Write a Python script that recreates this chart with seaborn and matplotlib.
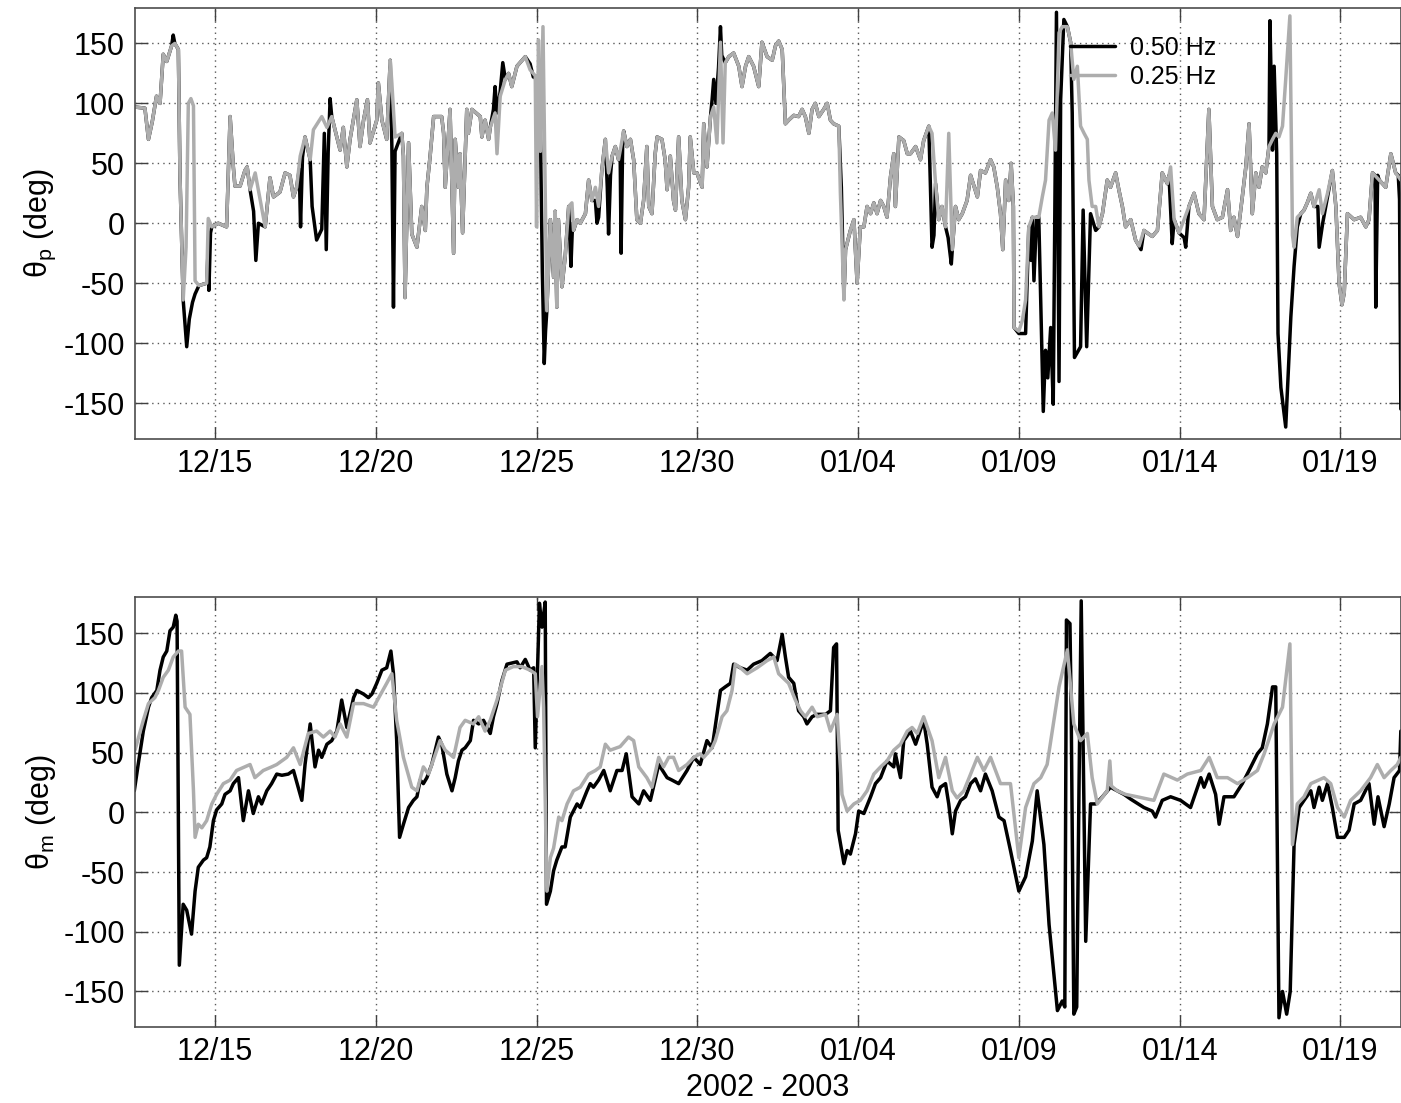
import matplotlib
matplotlib.use("Agg")
import matplotlib.pyplot as plt
import numpy as np
import pandas as pd
import seaborn as sns

# Time axis: day counted from 1 Dec 2002 (Jan days are 31 + day of month)
tick_days = [15, 20, 25, 30, 35, 40, 45, 50]
tick_labels = ["12/15", "12/20", "12/25", "12/30", "01/04", "01/09", "01/14", "01/19"]
deg_ticks = [-150, -100, -50, 0, 50, 100, 150]

# Peak direction, 0.25 Hz band (day, deg)
theta_p_025 = [
    (12.50, 97), (12.82, 96), (12.93, 70), (13.05, 85), (13.18, 106), (13.29, 100), (13.39, 141),
    (13.50, 135), (13.65, 148), (13.75, 150), (13.86, 145), (13.91, 40), (14.01, -64), (14.10, -20),
    (14.17, 100), (14.25, 104), (14.33, 98), (14.38, -48), (14.50, -52), (14.74, -50), (14.79, 4),
    (14.90, -3), (15.10, 0), (15.36, -3), (15.47, 89), (15.57, 47), (15.62, 31), (15.78, 31),
    (15.93, 44), (16.00, 47), (16.09, 28), (16.25, 42), (16.56, -3), (16.71, 38), (16.82, 22),
    (17.02, 26), (17.18, 42), (17.33, 40), (17.44, 22), (17.54, 30), (17.65, 56), (17.80, 72),
    (17.96, 53), (18.06, 78), (18.32, 89), (18.48, 80), (18.63, 89), (18.79, 72), (18.89, 61),
    (18.99, 80), (19.10, 47), (19.20, 70), (19.41, 103), (19.51, 64), (19.62, 86), (19.74, 103),
    (19.82, 67), (20.03, 86), (20.08, 117), (20.19, 86), (20.34, 70), (20.45, 136), (20.50, 117),
    (20.60, 72), (20.81, 75), (20.86, 56), (20.91, -62), (21.02, 67), (21.12, -9), (21.28, -20),
    (21.43, 14), (21.54, -6), (21.59, 30), (21.69, 56), (21.80, 89), (22.05, 89), (22.11, 75),
    (22.16, 30), (22.31, 95), (22.42, -25), (22.47, 70), (22.57, 30), (22.62, 58), (22.70, -8),
    (22.83, 95), (22.88, 75), (22.99, 95), (23.25, 89), (23.30, 72), (23.40, 86), (23.51, 70),
    (23.56, 80), (23.71, 92), (23.77, 58), (23.87, 106), (24.03, 120), (24.13, 125), (24.23, 114),
    (24.39, 131), (24.65, 139), (24.80, 128), (24.96, 123), (25.00, -3), (25.06, 153), (25.12, 60),
    (25.20, 164), (25.32, -73), (25.43, 3), (25.53, -45), (25.58, 10), (25.63, -70), (25.68, 3),
    (25.79, -53), (25.89, -28), (26.00, 14), (26.10, 17), (26.15, -6), (26.26, 3), (26.36, 0),
    (26.52, 8), (26.62, 36), (26.72, 19), (26.83, 30), (26.93, 14), (27.03, 44), (27.14, 70),
    (27.24, 42), (27.35, 56), (27.45, 64), (27.55, 53), (27.71, 77), (27.81, 64), (27.92, 70),
    (28.02, 53), (28.12, 3), (28.23, 0), (28.33, 19), (28.43, 64), (28.49, 14), (28.59, 8),
    (28.69, 58), (28.75, 72), (28.90, 70), (29.00, 53), (29.06, 28), (29.16, 56), (29.26, 19),
    (29.32, 11), (29.42, 72), (29.52, 19), (29.63, 3), (29.73, 30), (29.78, 72), (29.89, 42),
    (29.99, 42), (30.15, 30), (30.20, 83), (30.30, 47), (30.41, 89), (30.51, 97), (30.61, 67),
    (30.72, 151), (30.80, 67), (30.87, 134), (30.98, 139), (31.13, 142), (31.29, 131), (31.39, 114),
    (31.50, 131), (31.60, 139), (31.75, 131), (31.91, 114), (32.01, 151), (32.17, 139), (32.33, 136),
    (32.43, 148), (32.53, 152), (32.64, 145), (32.74, 83), (32.84, 86), (33.00, 90), (33.15, 89),
    (33.26, 95), (33.36, 89), (33.47, 75), (33.57, 95), (33.67, 100), (33.78, 89), (33.93, 95),
    (34.04, 100), (34.14, 86), (34.24, 83), (34.40, 81), (34.45, 25), (34.56, -64), (34.61, -22),
    (34.76, -6), (34.87, 3), (34.97, -50), (35.07, -3), (35.18, -3), (35.28, 14), (35.39, 8),
    (35.49, 17), (35.59, 8), (35.70, 19), (35.80, 14), (35.90, 5), (36.01, 39), (36.11, 58),
    (36.16, 14), (36.27, 72), (36.42, 69), (36.53, 58), (36.63, 58), (36.79, 64), (36.94, 53),
    (37.04, 69), (37.20, 81), (37.30, 75), (37.41, 33), (37.51, 3), (37.61, 14), (37.72, -3),
    (37.82, 75), (37.93, -22), (38.03, 14), (38.13, 3), (38.24, 8), (38.39, 19), (38.50, 40),
    (38.71, 22), (38.81, 44), (38.96, 42), (39.12, 53), (39.22, 47), (39.33, 30), (39.43, 8),
    (39.50, -22), (39.59, 36), (39.69, 19), (39.76, 50), (39.83, 14), (39.85, -87), (40.00, -90),
    (40.11, -81), (40.21, -64), (40.31, -3), (40.42, 5), (40.62, 5), (40.73, 22), (40.83, 36),
    (40.94, 86), (41.04, 92), (41.14, 61), (41.25, 159), (41.35, 164), (41.51, 164), (41.61, 151),
    (41.71, 120), (41.82, 131), (41.92, 81), (42.03, 75), (42.13, 70), (42.18, 36), (42.28, 14),
    (42.39, 14), (42.49, -3), (42.60, 8), (42.75, 36), (42.85, 30), (43.01, 42), (43.11, 28),
    (43.22, 14), (43.32, -3), (43.48, 3), (43.63, -14), (43.74, -19), (43.89, -6), (43.99, -8),
    (44.15, -11), (44.31, -6), (44.46, 42), (44.62, 33), (44.72, 47), (44.83, 3), (44.98, -8),
    (45.14, 3), (45.29, 14), (45.45, 25), (45.60, 8), (45.76, 3), (45.91, 95), (46.02, 14),
    (46.17, 3), (46.33, 5), (46.49, 28), (46.59, -6), (46.69, 5), (46.80, -11), (46.95, 22),
    (47.06, 47), (47.16, 83), (47.26, 8), (47.37, 42), (47.47, 30), (47.57, 47), (47.68, 42),
    (47.78, 64), (47.89, 70), (47.99, 75), (48.09, 72), (48.20, 81), (48.30, 120), (48.43, 173),
    (48.51, -10), (48.56, -20), (48.66, 5), (48.77, 8), (48.87, 11), (48.97, 17), (49.08, 25),
    (49.18, 14), (49.34, 28), (49.44, 8), (49.60, 25), (49.75, 44), (49.86, 14), (49.96, -50),
    (50.05, -68), (50.12, -58), (50.22, 8), (50.43, 3), (50.63, 5), (50.79, -3), (50.89, 3),
    (51.00, 42), (51.21, 36), (51.41, 30), (51.57, 58), (51.72, 42), (51.88, 36),
]

# Peak direction, 0.50 Hz band (day, deg)
theta_p_050 = [
    (12.50, 97), (12.82, 96), (12.93, 70), (13.05, 85), (13.18, 106), (13.29, 100), (13.39, 141),
    (13.50, 135), (13.65, 148), (13.70, 157), (13.75, 150), (13.86, 145), (13.91, 40), (14.01, -64),
    (14.12, -103), (14.20, -80), (14.30, -66), (14.38, -59), (14.50, -52), (14.74, -50), (14.79, -20),
    (14.81, -56), (14.86, -8), (14.90, -3), (15.10, 0), (15.36, -3), (15.47, 89), (15.57, 47),
    (15.62, 31), (15.78, 31), (15.93, 44), (16.00, 47), (16.09, 28), (16.20, 10), (16.27, -31),
    (16.35, 0), (16.56, -3), (16.71, 38), (16.82, 22), (17.02, 26), (17.18, 42), (17.33, 40),
    (17.44, 22), (17.54, 30), (17.62, 45), (17.66, -3), (17.72, 55), (17.80, 72), (17.96, 53),
    (18.02, 14), (18.16, -14), (18.32, -5), (18.40, 75), (18.46, -22), (18.52, 60), (18.58, 104),
    (18.63, 89), (18.79, 72), (18.89, 61), (18.99, 80), (19.10, 47), (19.20, 70), (19.41, 103),
    (19.51, 64), (19.62, 86), (19.74, 103), (19.82, 67), (20.03, 86), (20.08, 117), (20.19, 86),
    (20.34, 70), (20.45, 136), (20.50, 64), (20.55, -70), (20.60, 60), (20.81, 75), (20.86, 56),
    (20.91, -62), (21.02, 67), (21.12, -9), (21.28, -20), (21.43, 14), (21.54, -6), (21.59, 30),
    (21.69, 56), (21.80, 89), (22.05, 89), (22.11, 75), (22.16, 30), (22.31, 95), (22.42, -25),
    (22.47, 70), (22.57, 30), (22.62, 58), (22.70, -8), (22.83, 95), (22.88, 75), (22.99, 95),
    (23.25, 89), (23.30, 72), (23.40, 86), (23.51, 70), (23.56, 80), (23.66, 95), (23.71, 114),
    (23.77, 92), (23.87, 110), (23.95, 134), (24.03, 120), (24.13, 125), (24.23, 114), (24.39, 131),
    (24.65, 139), (24.80, 133), (24.90, 122), (24.96, 123), (25.05, 100), (25.12, 78), (25.18, -40),
    (25.24, -117), (25.28, -90), (25.32, -73), (25.43, 3), (25.53, -45), (25.58, 10), (25.63, -70),
    (25.68, 3), (25.79, -53), (25.89, -28), (26.00, 14), (26.07, -36), (26.12, 0), (26.15, -6),
    (26.26, 3), (26.36, 0), (26.52, 8), (26.62, 36), (26.72, 19), (26.83, 19), (26.88, 0),
    (26.93, 5), (27.03, 44), (27.14, 70), (27.20, 30), (27.24, -9), (27.30, 40), (27.35, 56),
    (27.45, 64), (27.55, 53), (27.60, 60), (27.63, -25), (27.68, 70), (27.71, 77), (27.81, 64),
    (27.92, 70), (28.02, 53), (28.12, 3), (28.23, 0), (28.33, 19), (28.43, 64), (28.49, 14),
    (28.59, 8), (28.69, 58), (28.75, 72), (28.90, 70), (29.00, 53), (29.06, 28), (29.16, 56),
    (29.26, 19), (29.32, 11), (29.42, 72), (29.52, 19), (29.63, 3), (29.73, 30), (29.78, 72),
    (29.89, 42), (29.99, 42), (30.15, 30), (30.20, 83), (30.30, 47), (30.41, 89), (30.46, 103),
    (30.51, 120), (30.58, 100), (30.66, 130), (30.72, 164), (30.76, 140), (30.87, 134), (30.98, 139),
    (31.13, 142), (31.29, 131), (31.39, 114), (31.50, 131), (31.60, 139), (31.75, 131), (31.91, 114),
    (32.01, 151), (32.17, 139), (32.33, 136), (32.43, 148), (32.53, 152), (32.64, 145), (32.74, 83),
    (32.84, 86), (33.00, 90), (33.15, 89), (33.26, 95), (33.36, 89), (33.47, 75), (33.57, 95),
    (33.67, 100), (33.78, 89), (33.93, 95), (34.04, 100), (34.14, 86), (34.24, 83), (34.40, 81),
    (34.48, 30), (34.56, -62), (34.61, -22), (34.76, -6), (34.87, 3), (34.97, -50), (35.07, -3),
    (35.18, -3), (35.28, 14), (35.39, 8), (35.49, 17), (35.59, 8), (35.70, 19), (35.80, 14),
    (35.90, 5), (36.01, 39), (36.11, 58), (36.16, 14), (36.27, 72), (36.42, 69), (36.53, 58),
    (36.63, 58), (36.79, 64), (36.94, 53), (37.04, 69), (37.20, 81), (37.30, -20), (37.36, -10),
    (37.41, 33), (37.51, 3), (37.61, 14), (37.72, -3), (37.80, -12), (37.90, -34), (37.93, -22),
    (38.03, 14), (38.13, 3), (38.24, 8), (38.39, 19), (38.50, 40), (38.71, 22), (38.81, 44),
    (38.96, 42), (39.12, 53), (39.22, 47), (39.33, 30), (39.43, 8), (39.50, -22), (39.59, 36),
    (39.69, 19), (39.76, 50), (39.83, 14), (39.85, -87), (40.00, -92), (40.21, -92), (40.31, -3),
    (40.38, -31), (40.42, 5), (40.47, -48), (40.55, 5), (40.62, 5), (40.76, -157), (40.83, -106),
    (40.90, -129), (40.99, -87), (41.07, -151), (41.14, 86), (41.17, 176), (41.25, -132), (41.30, 103),
    (41.40, 170), (41.51, 164), (41.61, 151), (41.66, 92), (41.73, -112), (41.92, -103), (42.00, 11),
    (42.11, -103), (42.23, 8), (42.39, -6), (42.49, -3), (42.60, 8), (42.75, 36), (42.85, 30),
    (43.01, 42), (43.11, 28), (43.22, 14), (43.32, -3), (43.48, 3), (43.63, -14), (43.74, -19),
    (43.80, -22), (43.89, -6), (43.99, -8), (44.15, -11), (44.31, -6), (44.46, 42), (44.62, 33),
    (44.67, 40), (44.77, -17), (44.83, 3), (44.98, -8), (45.14, -12), (45.19, -20), (45.29, 14),
    (45.45, 25), (45.60, 8), (45.76, 3), (45.91, 95), (46.02, 14), (46.17, 3), (46.33, 5),
    (46.49, 28), (46.59, -6), (46.69, 5), (46.80, -11), (46.95, 22), (47.06, 47), (47.16, 83),
    (47.26, 8), (47.37, 42), (47.47, 30), (47.57, 47), (47.68, 42), (47.78, 64), (47.81, 169),
    (47.89, 61), (47.94, 131), (48.02, 58), (48.06, -92), (48.15, -137), (48.30, -170), (48.46, -78),
    (48.56, -36), (48.66, -3), (48.77, 8), (48.87, 11), (48.97, 17), (49.08, 25), (49.18, 14),
    (49.30, 14), (49.34, -20), (49.45, 0), (49.60, 22), (49.75, 44), (49.86, 14), (49.96, -50),
    (50.05, -68), (50.12, -58), (50.22, 8), (50.43, 3), (50.63, 5), (50.79, -3), (50.89, 3),
    (51.00, 42), (51.08, 40), (51.10, -70), (51.16, 40), (51.21, 36), (51.41, 30), (51.57, 58),
    (51.72, 42), (51.80, 40), (51.84, 20), (51.88, -155),
]

# Mean direction, 0.25 Hz band (day, deg)
theta_m_025 = [
    (12.51, 52), (12.77, 77), (12.93, 91), (13.13, 96), (13.24, 102), (13.39, 113), (13.55, 119),
    (13.70, 130), (13.86, 135), (13.96, 135), (14.07, 88), (14.22, 82), (14.33, 18), (14.38, -21),
    (14.48, -10), (14.59, -13), (14.74, -7), (14.90, 7), (15.05, 15), (15.26, 24), (15.47, 27),
    (15.67, 35), (16.09, 40), (16.24, 29), (16.50, 35), (16.76, 38), (16.92, 40), (17.23, 46),
    (17.44, 54), (17.65, 40), (17.90, 66), (18.16, 68), (18.37, 63), (18.58, 68), (18.73, 63),
    (18.89, 74), (19.10, 63), (19.31, 91), (19.62, 91), (19.93, 88), (20.34, 108), (20.50, 116),
    (20.65, 77), (20.86, 46), (21.12, 21), (21.28, 18), (21.48, 38), (21.64, 32), (22.00, 60),
    (22.16, 52), (22.42, 46), (22.62, 71), (22.78, 77), (23.04, 74), (23.20, 80), (23.40, 68),
    (23.56, 77), (23.77, 94), (24.03, 119), (24.28, 122), (24.54, 122), (24.80, 119), (24.96, 116),
    (25.03, 80), (25.17, 122), (25.22, 88), (25.32, -66), (25.43, -38), (25.53, -30), (25.69, -4),
    (25.79, -7), (25.95, 7), (26.15, 18), (26.36, 21), (26.62, 32), (26.83, 35), (26.98, 38),
    (27.14, 57), (27.29, 52), (27.60, 55), (27.86, 63), (28.02, 60), (28.18, 38), (28.43, 29),
    (28.59, 21), (28.80, 46), (28.95, 38), (29.11, 46), (29.26, 46), (29.42, 35), (29.68, 40),
    (29.89, 46), (30.09, 49), (30.20, 46), (30.46, 54), (30.56, 60), (30.77, 80), (30.92, 85),
    (31.08, 102), (31.18, 124), (31.34, 121), (31.55, 116), (31.86, 121), (32.17, 127), (32.38, 130),
    (32.53, 116), (32.84, 108), (33.05, 94), (33.21, 85), (33.36, 80), (33.57, 88), (33.73, 80),
    (33.99, 82), (34.14, 68), (34.35, 82), (34.50, 15), (34.66, 1), (34.87, 7), (35.07, 10),
    (35.28, 18), (35.49, 32), (35.70, 38), (35.90, 43), (36.11, 52), (36.32, 57), (36.53, 68),
    (36.68, 71), (36.84, 66), (37.04, 80), (37.30, 60), (37.51, 29), (37.72, 46), (37.93, 18),
    (38.08, 12), (38.29, 18), (38.50, 32), (38.71, 46), (38.91, 35), (39.12, 46), (39.43, 24),
    (39.74, 24), (40.00, -38), (40.21, 4), (40.47, 24), (40.68, 29), (40.88, 40), (41.25, 105),
    (41.51, 136), (41.71, 74), (41.92, 60), (42.13, 66), (42.28, 29), (42.44, 7), (42.75, 18),
    (42.83, 43), (42.88, 22), (43.06, 18), (43.32, 15), (43.68, 13), (44.20, 10), (44.51, 32),
    (44.93, 27), (45.24, 32), (45.66, 35), (45.92, 46), (46.17, 29), (46.49, 29), (46.80, 24),
    (47.11, 29), (47.42, 35), (47.63, 49), (47.94, 74), (48.20, 88), (48.43, 141), (48.51, -27),
    (48.66, 7), (48.87, 13), (49.08, 24), (49.49, 29), (49.70, 24), (49.91, 4), (50.12, -4),
    (50.32, 10), (50.63, 18), (50.94, 29), (51.15, 40), (51.36, 29), (51.57, 35), (51.77, 40),
    (51.88, 46),
]

# Mean direction, 0.50 Hz band (day, deg)
theta_m_050 = [
    (12.49, 18), (12.61, 40), (12.77, 68), (12.93, 88), (13.03, 96), (13.19, 102), (13.29, 119),
    (13.39, 130), (13.50, 135), (13.60, 152), (13.70, 155), (13.78, 165), (13.82, 160), (13.89, -128),
    (14.01, -77), (14.12, -82), (14.27, -102), (14.38, -66), (14.48, -46), (14.64, -40), (14.74, -38),
    (14.84, -29), (14.95, -7), (15.05, 2), (15.21, 7), (15.31, 15), (15.47, 18), (15.57, 24),
    (15.73, 29), (15.88, -7), (16.04, 18), (16.19, -1), (16.35, 13), (16.45, 7), (16.61, 18),
    (16.76, 24), (16.92, 32), (17.08, 31), (17.28, 32), (17.44, 35), (17.70, 10), (17.80, 40),
    (17.96, 74), (18.11, 38), (18.22, 52), (18.32, 46), (18.48, 57), (18.63, 60), (18.79, 68),
    (18.94, 94), (19.10, 71), (19.31, 96), (19.41, 102), (19.62, 99), (19.77, 96), (19.88, 99),
    (20.03, 108), (20.19, 119), (20.34, 121), (20.47, 135), (20.55, 116), (20.65, 60), (20.74, -21),
    (20.86, -10), (21.02, 4), (21.17, 10), (21.28, 13), (21.38, 27), (21.48, 24), (21.59, 29),
    (21.74, 40), (21.95, 63), (22.05, 57), (22.21, 32), (22.37, 18), (22.47, 29), (22.57, 43),
    (22.68, 52), (22.78, 54), (22.94, 60), (23.04, 77), (23.20, 74), (23.35, 77), (23.56, 66),
    (23.66, 80), (23.77, 91), (23.92, 110), (24.08, 124), (24.39, 126), (24.49, 121), (24.65, 128),
    (24.80, 119), (24.91, 121), (24.96, 54), (25.09, 175), (25.17, 155), (25.27, 176), (25.31, -77),
    (25.43, -66), (25.53, -49), (25.63, -40), (25.79, -29), (25.89, -29), (26.05, -4), (26.26, 7),
    (26.36, 4), (26.57, 18), (26.67, 24), (26.77, 21), (26.93, 27), (27.09, 35), (27.29, 18),
    (27.50, 35), (27.66, 35), (27.79, 49), (27.86, 35), (27.97, 13), (28.18, 7), (28.33, 18),
    (28.54, 10), (28.80, 40), (29.06, 29), (29.21, 27), (29.42, 24), (29.68, 35), (29.89, 46),
    (30.09, 40), (30.30, 60), (30.46, 54), (30.51, 63), (30.72, 102), (30.87, 105), (31.03, 108),
    (31.13, 124), (31.34, 121), (31.55, 119), (31.75, 124), (32.01, 127), (32.27, 133), (32.48, 127),
    (32.64, 149), (32.74, 130), (32.84, 113), (33.00, 108), (33.15, 85), (33.31, 80), (33.41, 74),
    (33.57, 80), (33.73, 82), (33.99, 82), (34.14, 85), (34.24, 138), (34.33, 141), (34.38, -15),
    (34.56, -43), (34.66, -32), (34.76, -35), (34.92, -18), (35.02, 1), (35.18, -1), (35.39, 13),
    (35.54, 24), (35.70, 29), (35.90, 43), (36.11, 38), (36.16, 49), (36.32, 29), (36.42, 60),
    (36.63, 68), (36.79, 57), (37.04, 77), (37.15, 57), (37.30, 21), (37.46, 13), (37.56, 21),
    (37.72, 24), (37.82, 7), (37.93, -18), (38.03, 1), (38.19, 10), (38.34, 13), (38.50, 24),
    (38.65, 28), (38.81, 18), (38.96, 32), (39.17, 18), (39.38, -4), (39.54, -7), (39.74, -32),
    (40.00, -66), (40.21, -54), (40.42, -24), (40.57, 18), (40.78, -27), (40.94, -94), (41.20, -166),
    (41.35, -158), (41.43, -163), (41.48, 161), (41.59, 158), (41.63, 80), (41.71, -169), (41.80, -163),
    (41.87, 18), (41.94, 177), (42.08, -108), (42.23, 7), (42.39, 7), (42.60, 13), (42.85, 21),
    (43.06, 18), (43.27, 15), (43.48, 11), (43.89, 4), (44.15, 1), (44.25, -4), (44.46, 10),
    (44.72, 13), (45.03, 10), (45.34, 4), (45.66, 29), (45.76, 21), (45.92, 32), (46.12, 15),
    (46.23, -10), (46.38, 13), (46.69, 13), (46.95, 24), (47.16, 35), (47.42, 49), (47.57, 54),
    (47.73, 74), (47.89, 105), (47.99, 105), (48.09, -172), (48.20, -150), (48.33, -169), (48.44, -150),
    (48.56, -27), (48.72, 4), (48.87, 10), (49.08, 18), (49.18, 4), (49.34, 21), (49.44, 10),
    (49.60, 24), (49.75, 4), (49.91, -21), (50.12, -21), (50.27, -15), (50.43, 7), (50.63, 10),
    (50.89, 24), (51.05, -10), (51.17, 13), (51.36, -12), (51.52, 7), (51.67, 29), (51.84, 35),
    (51.88, 68),
]

bands = ["0.50 Hz", "0.25 Hz"]
band_colors = {"0.50 Hz": "black", "0.25 Hz": "#adadad"}


def to_frame(pairs, band):
    arr = np.array(pairs, dtype=float)
    return pd.DataFrame({"day": arr[:, 0], "theta": arr[:, 1], "band": band})


panels = [
    (pd.concat([to_frame(theta_p_050, bands[0]), to_frame(theta_p_025, bands[1])]),
     r"$\mathrm{\theta_p}$ (deg)"),
    (pd.concat([to_frame(theta_m_050, bands[0]), to_frame(theta_m_025, bands[1])]),
     r"$\mathrm{\theta_m}$ (deg)"),
]

sns.set_style("white")
plt.rcParams["font.family"] = ["Liberation Sans", "DejaVu Sans"]
plt.rcParams["mathtext.fontset"] = "custom"
plt.rcParams["mathtext.rm"] = "Liberation Sans"
plt.rcParams["mathtext.it"] = "Liberation Sans:italic"
plt.rcParams["text.color"] = "black"

W, H = 1401, 1103
fig = plt.figure(figsize=(W / 100, H / 100), dpi=100)
ax_left = 134.5 / W
ax_width = (1400.5 - 134.5) / W
axes = [
    fig.add_axes([ax_left, 1 - 439 / H, ax_width, (439 - 7.5) / H]),
    fig.add_axes([ax_left, 1 - 1027.3 / H, ax_width, (1027.3 - 597.3) / H]),
]

tick_fs = 22
for ax, (df, ylab) in zip(axes, panels):
    for band in bands:
        sns.lineplot(data=df[df["band"] == band], x="day", y="theta", ax=ax,
                     color=band_colors[band], linewidth=2.5, estimator=None,
                     sort=False, label=band, legend=False)
    ax.set_xlim(12.496, 51.87)
    ax.set_ylim(-180, 180)
    ax.set_xticks(tick_days)
    ax.set_xticklabels(tick_labels)
    ax.set_yticks(deg_ticks)
    ax.set_yticklabels([str(v) for v in deg_ticks])
    ax.tick_params(direction="in", length=9, width=1, labelsize=tick_fs,
                   top=True, right=True, bottom=True, left=True, pad=7, colors="0.25",
                   labelcolor="black")
    ax.grid(True, linestyle=(0, (1, 3)), color="0.35", linewidth=1)
    for sp in ax.spines.values():
        sp.set_color("0.3")
        sp.set_linewidth(1.2)
    ax.set_ylabel(ylab, fontsize=tick_fs, labelpad=4, color="black")
    ax.set_xlabel("")

axes[1].set_xlabel("2002 - 2003", fontsize=tick_fs, labelpad=4, color="black")

handles, labels = axes[0].get_legend_handles_labels()
axes[0].legend(handles, labels, loc="upper left", bbox_to_anchor=(0.739, 0.935),
               frameon=False, fontsize=18, handlelength=1.8, handletextpad=0.6,
               labelspacing=0.22, borderpad=0, borderaxespad=0, labelcolor="black")

fig.savefig("out.png", dpi=100)
